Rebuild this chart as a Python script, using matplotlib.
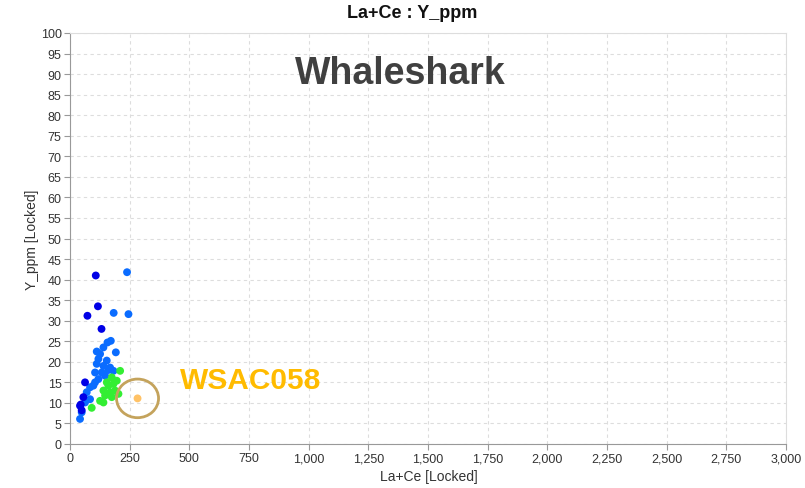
import matplotlib
matplotlib.use("Agg")
import matplotlib.pyplot as plt
from matplotlib.patches import Ellipse
from matplotlib.ticker import FuncFormatter

plt.rcParams['font.family'] = ['Liberation Sans', 'DejaVu Sans']

# dark blue group
dark_x = [108, 73, 117, 132, 63, 56, 42, 49, 45]
dark_y = [41.0, 31.2, 33.5, 28.0, 15.0, 11.4, 9.3, 8.2, 9.6]

# light blue group
blue_x = [239, 183, 245, 171, 157, 192, 140, 126, 119, 112, 154, 168, 182,
          105, 133, 140, 84, 105, 119, 147, 70, 84, 63, 49, 42, 112, 98, 161]
blue_y = [41.8, 31.9, 31.6, 25.1, 24.7, 22.3, 23.5, 21.9, 20.7, 19.5, 20.3,
          18.6, 17.8, 17.4, 17.4, 19.0, 13.8, 15.0, 15.8, 16.6, 12.6, 10.9,
          10.1, 7.7, 6.1, 22.5, 14.2, 18.0]

# green group
green_x = [210, 196, 175, 182, 161, 140, 168, 189, 147, 175, 126, 140, 91, 203, 154]
green_y = [17.8, 15.4, 16.2, 14.6, 14.2, 13.0, 12.6, 13.0, 11.8, 11.4, 10.5,
           10.1, 8.8, 12.2, 15.0]

# highlighted sample
hl_x = [283]
hl_y = [11.1]
hl_label = "WSAC058"

fig = plt.figure(figsize=(8.05, 4.89), dpi=100)
ax = fig.add_axes([70 / 805, 1 - 445 / 489, 716 / 805, 411 / 489])

ax.scatter(blue_x, blue_y, s=32, color='#0a6cff', edgecolors='none', zorder=3)
ax.scatter(dark_x, dark_y, s=32, color='#0000e6', edgecolors='none', zorder=3)
ax.scatter(green_x, green_y, s=32, color='#33ee33', edgecolors='none', zorder=3)
ax.scatter(hl_x, hl_y, s=32, color='#ffc266', edgecolors='none', zorder=3)

# circle around the highlighted sample
ax.add_patch(Ellipse((hl_x[0], hl_y[0]), width=176, height=9.4, fill=False,
                     edgecolor='#c4a35c', linewidth=2, zorder=4))
ax.text(461, 15.6, hl_label, fontsize=21.5, fontweight='bold', color='#ffbb00',
        va='center', ha='left', zorder=5)

ax.text(0.462, 0.903, "Whaleshark", transform=ax.transAxes, fontsize=27,
        fontweight='bold', color='#404040', ha='center', va='center')

ax.set_xlim(0, 3000)
ax.set_ylim(0, 100)
ax.set_xticks(range(0, 3001, 250))
ax.set_yticks(range(0, 101, 5))
ax.xaxis.set_major_formatter(FuncFormatter(lambda v, p: f"{int(v):,}"))
ax.tick_params(labelsize=9, colors='#333333', length=4, width=0.8, pad=2)
ax.tick_params(axis='both', color='#999999')

ax.grid(True, linestyle=(0, (3, 3)), color='#dddddd', linewidth=0.8)
ax.set_axisbelow(True)
for side in ['left', 'bottom']:
    ax.spines[side].set_color('#999999')
for side in ['top', 'right']:
    ax.spines[side].set_color('#dddddd')

ax.set_xlabel("La+Ce [Locked]", fontsize=10, color='#333333')
ax.set_ylabel("Y_ppm [Locked]", fontsize=10, color='#333333')
ax.xaxis.set_label_coords((429 - 70) / 716, -(470 - 445) / 411)
ax.yaxis.set_label_coords(-(70 - 39) / 716, 0.5)
fig.text(412 / 805, 1 - 13 / 489, "La+Ce : Y_ppm", fontsize=13, fontweight='bold',
         ha='center', va='center', color='#111111')

fig.savefig("out.png", dpi=100)
